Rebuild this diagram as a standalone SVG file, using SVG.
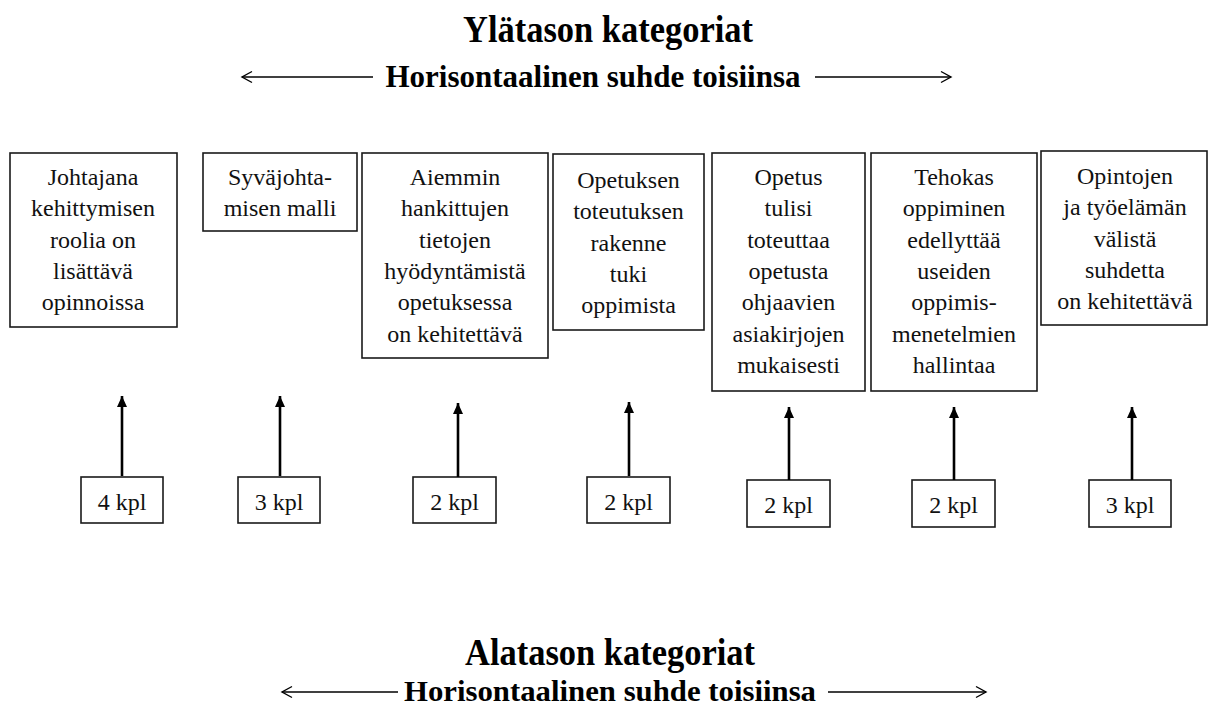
<svg xmlns="http://www.w3.org/2000/svg" width="1209" height="708" viewBox="0 0 1209 708">
  <style>
    .box { fill: #fff; stroke: #1a1a1a; stroke-width: 1.6; }
    .txt { font-family: "Liberation Serif", Tinos, "Times New Roman", "DejaVu Serif", serif; font-weight: normal; font-size: 24px; fill: #111; text-anchor: middle; }
    .head { font-family: "Liberation Serif", Tinos, "Times New Roman", "DejaVu Serif", serif; font-weight: bold; fill: #000; text-anchor: middle; }
    .h1 { font-size: 37px; }
    .h2 { font-size: 31px; }
    .h2b { font-size: 29px; }
    .up { stroke: #000; stroke-width: 2.6; fill: none; marker-end: url(#tri); }
    .span { stroke: #000; stroke-width: 1.4; fill: none; marker-end: url(#vee); }
  </style>
  <defs>
    <marker id="tri" markerUnits="userSpaceOnUse" markerWidth="12" markerHeight="12" viewBox="0 0 12 12" refX="11" refY="6" orient="auto">
      <path d="M0,1 L11,6 L0,11 Z" fill="#000"/>
    </marker>
    <marker id="vee" markerUnits="userSpaceOnUse" markerWidth="14" markerHeight="14" viewBox="0 0 14 14" refX="12" refY="7" orient="auto">
      <path d="M2,1.5 L12,7 L2,12.5" fill="none" stroke="#000" stroke-width="1.4"/>
    </marker>
  </defs>

  <!-- upper heading -->
  <g id="top-heading">
    <text class="head h1" x="608" y="42" textLength="290" lengthAdjust="spacingAndGlyphs">Ylätason kategoriat</text>
    <text class="head h2" x="593" y="87" textLength="415" lengthAdjust="spacingAndGlyphs">Horisontaalinen suhde toisiinsa</text>
    <path class="span" d="M373,77 H242"/>
    <path class="span" d="M815,77 H951"/>
  </g>

  <!-- upper-level categories -->
  <g id="cat1">
    <rect class="box" x="10" y="153" width="167" height="174"/>
    <text class="txt" x="93" y="185"><tspan x="93">Johtajana</tspan><tspan x="93" dy="31.3">kehittymisen</tspan><tspan x="93" dy="31.3">roolia on</tspan><tspan x="93" dy="31.3">lisättävä</tspan><tspan x="93" dy="31.3">opinnoissa</tspan></text>
  </g>
  <g id="cat2">
    <rect class="box" x="203" y="153" width="154" height="78"/>
    <text class="txt" x="280" y="185"><tspan x="280">Syväjohta-</tspan><tspan x="280" dy="31.3">misen malli</tspan></text>
  </g>
  <g id="cat3">
    <rect class="box" x="362" y="153" width="186" height="205"/>
    <text class="txt" x="455" y="185"><tspan x="455">Aiemmin</tspan><tspan x="455" dy="31.3">hankittujen</tspan><tspan x="455" dy="31.3">tietojen</tspan><tspan x="455" dy="31.3">hyödyntämistä</tspan><tspan x="455" dy="31.3">opetuksessa</tspan><tspan x="455" dy="31.3">on kehitettävä</tspan></text>
  </g>
  <g id="cat4">
    <rect class="box" x="553" y="154" width="151" height="176"/>
    <text class="txt" x="628.5" y="188"><tspan x="628.5">Opetuksen</tspan><tspan x="628.5" dy="31.3">toteutuksen</tspan><tspan x="628.5" dy="31.3">rakenne</tspan><tspan x="628.5" dy="31.3">tuki</tspan><tspan x="628.5" dy="31.3">oppimista</tspan></text>
  </g>
  <g id="cat5">
    <rect class="box" x="712" y="153" width="153" height="238"/>
    <text class="txt" x="788.5" y="185"><tspan x="788.5">Opetus</tspan><tspan x="788.5" dy="31.3">tulisi</tspan><tspan x="788.5" dy="31.3">toteuttaa</tspan><tspan x="788.5" dy="31.3">opetusta</tspan><tspan x="788.5" dy="31.3">ohjaavien</tspan><tspan x="788.5" dy="31.3">asiakirjojen</tspan><tspan x="788.5" dy="31.3">mukaisesti</tspan></text>
  </g>
  <g id="cat6">
    <rect class="box" x="871" y="153" width="166" height="238"/>
    <text class="txt" x="954" y="185"><tspan x="954">Tehokas</tspan><tspan x="954" dy="31.3">oppiminen</tspan><tspan x="954" dy="31.3">edellyttää</tspan><tspan x="954" dy="31.3">useiden</tspan><tspan x="954" dy="31.3">oppimis-</tspan><tspan x="954" dy="31.3">menetelmien</tspan><tspan x="954" dy="31.3">hallintaa</tspan></text>
  </g>
  <g id="cat7">
    <rect class="box" x="1041" y="151" width="166" height="174"/>
    <text class="txt" x="1125" y="184"><tspan x="1125">Opintojen</tspan><tspan x="1125" dy="31.3">ja työelämän</tspan><tspan x="1125" dy="31.3">välistä</tspan><tspan x="1125" dy="31.3">suhdetta</tspan><tspan x="1125" dy="31.3">on kehitettävä</tspan></text>
  </g>

  <!-- lower-level counts -->
  <g id="count1">
    <rect class="box" x="81" y="477" width="82" height="46"/>
    <text class="txt" x="122" y="510">4 kpl</text>
  </g>
  <g id="count2">
    <rect class="box" x="238" y="477" width="82" height="46"/>
    <text class="txt" x="279" y="510">3 kpl</text>
  </g>
  <g id="count3">
    <rect class="box" x="413" y="477" width="83" height="46"/>
    <text class="txt" x="454.5" y="510">2 kpl</text>
  </g>
  <g id="count4">
    <rect class="box" x="587" y="477" width="83" height="46"/>
    <text class="txt" x="628.5" y="510">2 kpl</text>
  </g>
  <g id="count5">
    <rect class="box" x="747" y="480" width="83" height="47"/>
    <text class="txt" x="788.5" y="513">2 kpl</text>
  </g>
  <g id="count6">
    <rect class="box" x="912" y="480" width="83" height="47"/>
    <text class="txt" x="953.5" y="513">2 kpl</text>
  </g>
  <g id="count7">
    <rect class="box" x="1089" y="480" width="82" height="47"/>
    <text class="txt" x="1130" y="513">3 kpl</text>
  </g>

  <!-- connectors: counts to categories -->
  <g id="connectors">
    <path class="up" d="M122,476 V396"/>
    <path class="up" d="M280,476 V396"/>
    <path class="up" d="M458,477 V403"/>
    <path class="up" d="M629,476 V402"/>
    <path class="up" d="M789,480 V407"/>
    <path class="up" d="M954,480 V407"/>
    <path class="up" d="M1132,480 V407"/>
  </g>

  <!-- lower heading -->
  <g id="bottom-heading">
    <text class="head h1" x="610" y="665" textLength="290" lengthAdjust="spacingAndGlyphs">Alatason kategoriat</text>
    <text class="head h2b" x="610" y="701" textLength="412" lengthAdjust="spacingAndGlyphs">Horisontaalinen suhde toisiinsa</text>
    <path class="span" d="M398,692 H282"/>
    <path class="span" d="M828,692 H986"/>
  </g>
</svg>
